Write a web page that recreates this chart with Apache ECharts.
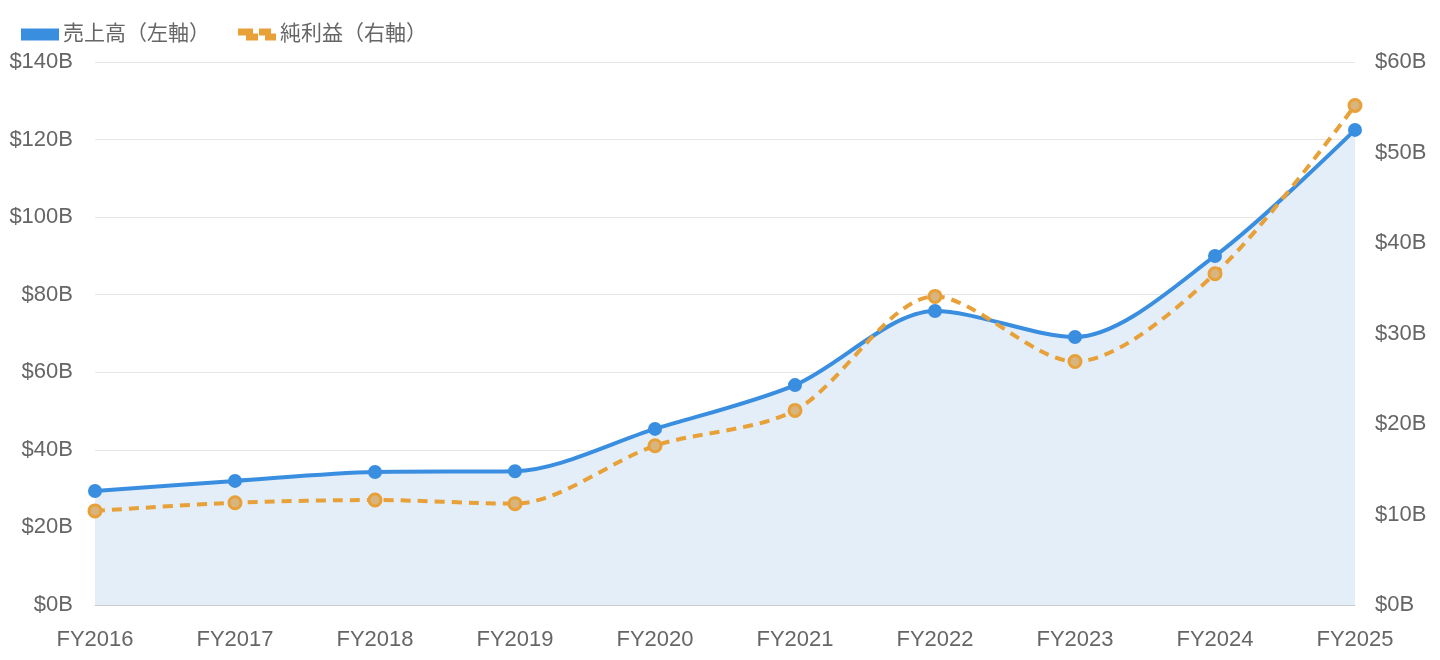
<!DOCTYPE html>
<html>
<head>
<meta charset="utf-8">
<script src="https://cdn.jsdelivr.net/npm/echarts@6/dist/echarts.min.js"></script>
<style>
  html, body { margin: 0; padding: 0; background: #fff; }
  #chart { width: 1440px; height: 660px; }
</style>
</head>
<body>
<div id="chart"></div>
<script>
// 年度
const years = ['FY2016', 'FY2017', 'FY2018', 'FY2019', 'FY2020', 'FY2021', 'FY2022', 'FY2023', 'FY2024', 'FY2025'];
// 売上高（十億ドル）
const revenue = [29.4, 32.0, 34.3, 34.5, 45.4, 56.7, 75.8, 69.1, 90.0, 122.5];
// 純利益（十億ドル）
const netIncome = [10.4, 11.3, 11.6, 11.2, 17.6, 21.5, 34.1, 26.9, 36.6, 55.2];

const FONT = '"Liberation Sans", "Noto Sans CJK JP", sans-serif';
const BLUE = '#3a8ee0';
const ORANGE = '#e8a038';

let myChart = echarts.init(document.getElementById('chart'));

const axisLabel = { color: '#666', fontSize: 22, fontFamily: FONT };

let option = {
  animation: false,
  textStyle: { fontFamily: FONT },
  legend: {
    left: 16,
    top: 19,
    itemWidth: 36,
    itemHeight: 10,
    itemGap: 28,
    textStyle: { color: '#666', fontSize: 21, fontFamily: FONT },
    data: [
      // 青: 白い線入りの帯
      {
        name: '売上高（左軸）',
        icon: 'path://M0,0H36V4H0Z M0,6H36V10H0Z M0,0H2V10H0Z M34,0H36V10H34Z',
        itemStyle: { color: BLUE },
      },
      // 橙: 破線
      {
        name: '純利益（右軸）',
        icon: 'path://M0,0H13V5H0Z M21,0H31V5H21Z M8,5H18V10H8Z M27,5H36V10H27Z',
        itemStyle: { color: ORANGE },
      },
    ],
  },
  grid: { left: 95, right: 85, top: 62, bottom: 55 },
  xAxis: {
    type: 'category',
    boundaryGap: false,
    data: years,
    axisLabel: { ...axisLabel, margin: 24 },
    axisTick: { show: false },
    axisLine: { lineStyle: { color: '#ccc' } },
  },
  yAxis: [
    {
      type: 'value',
      min: 0,
      max: 140,
      interval: 20,
      axisLabel: { ...axisLabel, formatter: (v) => `$${v}B`, margin: 22 },
      splitLine: { lineStyle: { color: '#e6e6e6' } },
      axisLine: { show: false },
    },
    {
      type: 'value',
      min: 0,
      max: 60,
      interval: 10,
      axisLabel: { ...axisLabel, formatter: (v) => `$${v}B`, margin: 20 },
      splitLine: { show: false },
      axisLine: { show: false },
    },
  ],
  series: [
    {
      name: '売上高（左軸）',
      type: 'line',
      yAxisIndex: 0,
      smooth: 0.3,
      data: revenue,
      symbol: 'circle',
      symbolSize: 12,
      itemStyle: { color: BLUE, borderColor: BLUE, borderWidth: 2 },
      lineStyle: { color: BLUE, width: 4 },
      areaStyle: { color: '#e4eef9', opacity: 1 },
      z: 3,
    },
    {
      name: '純利益（右軸）',
      type: 'line',
      yAxisIndex: 1,
      smooth: 0.3,
      data: netIncome,
      symbol: 'circle',
      symbolSize: 12,
      itemStyle: { color: '#d8b57e', borderColor: ORANGE, borderWidth: 3 },
      lineStyle: { color: ORANGE, width: 4, type: [10, 7] },
      z: 4,
    },
  ],
};

myChart.setOption(option);
</script>
</body>
</html>
